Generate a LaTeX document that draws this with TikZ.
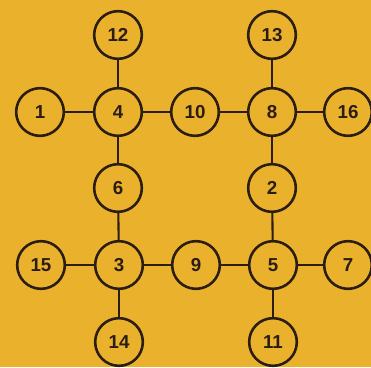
\documentclass[tikz,border=0pt]{standalone}
\usepackage{fontspec}
\setmainfont{Liberation Sans}
\usepackage{xcolor}
\usetikzlibrary{positioning}
\definecolor{PuzzleGold}{HTML}{EAB22C}
\definecolor{PuzzleInk}{HTML}{2B1D12}

\begin{document}
\begin{tikzpicture}[x=0.03cm,y=-0.03cm]
  \fill[PuzzleGold] (0,0) rectangle (371,367);
  \useasboundingbox (0,0) rectangle (371,367);
  \tikzset{
    ring/.style={circle,draw=PuzzleInk,line width=2.2pt,minimum size=1.43cm,inner sep=0pt,
      text=PuzzleInk,font=\fontsize{16}{19}\selectfont\bfseries},
    link/.style={PuzzleInk,line width=1.8pt}
  }
  \foreach \n/\x/\y in {12/118/35,13/272/35,1/40/112,4/118/112,10/195/112,8/272/112,16/348/112,
      6/118/188,2/272/188,15/41/265,3/119/265,9/196/265,5/273/265,7/348/265,14/119/342,11/273/342}{
    \node[ring] (n\n) at (\x,\y) {\n};
  }
  \foreach \a/\b in {12/4,1/4,4/10,10/8,8/13,8/16,4/6,8/2,6/3,2/5,15/3,3/9,9/5,5/7,3/14,5/11}{
    \draw[link] (n\a) -- (n\b);
  }
\end{tikzpicture}
\end{document}
